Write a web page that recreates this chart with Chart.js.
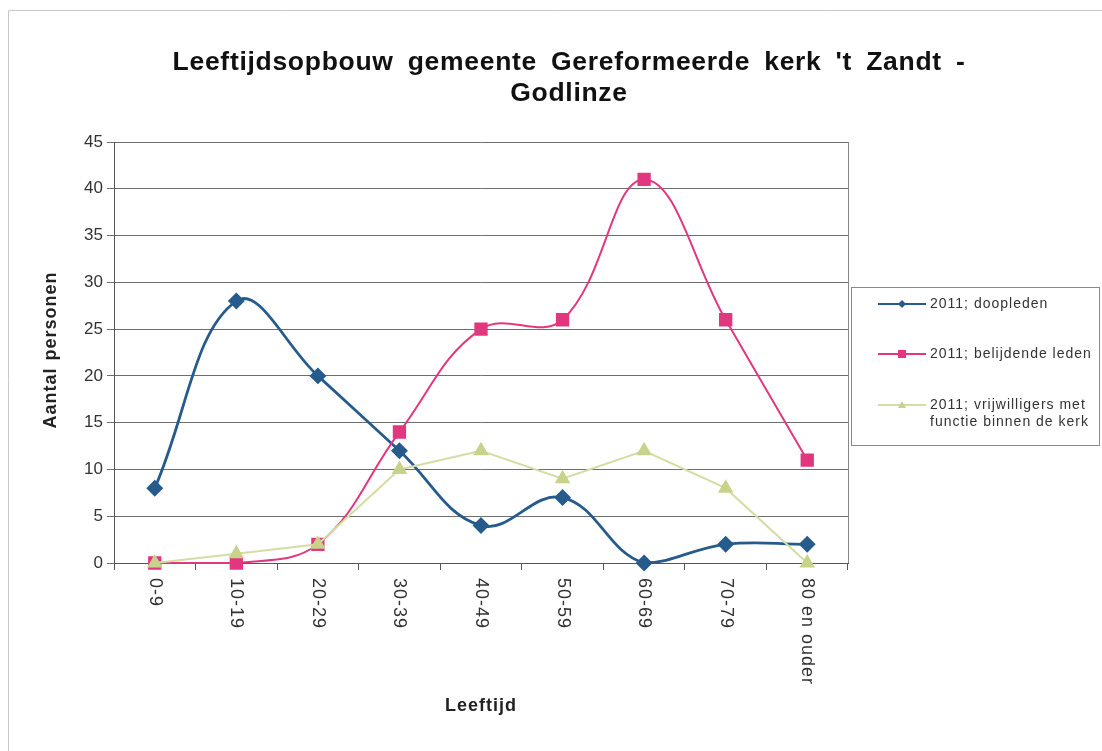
<!DOCTYPE html>
<html><head><meta charset="utf-8">
<script src="https://cdn.jsdelivr.net/npm/chart.js@4"></script>
<style>html,body{margin:0;padding:0;background:#fff}#wrap{width:1102px;height:751px;position:relative}</style>
</head><body><div id="wrap"><canvas id="c" width="1102" height="751"></canvas></div>
<script>
const categories = ['0-9','10-19','20-29','30-39','40-49','50-59','60-69','70-79','80 en ouder'];
const doopleden = [8,28,20,12,4,7,0,2,2];
const belijdendeLeden = [0,0,2,14,25,26,41,26,11];
const vrijwilligers = [0,1,2,10,12,9,12,8,0];
const seriesNames = ['2011; doopleden','2011; belijdende leden','2011; vrijwilligers met functie binnen de kerk'];
const legendLines = [['2011; doopleden'],['2011; belijdende leden'],['2011; vrijwilligers met','functie binnen de kerk']];
const titleLines = ["Leeftijdsopbouw gemeente Gereformeerde kerk 't Zandt -", 'Godlinze'];
const yTitle = 'Aantal personen';
const xTitle = 'Leeftijd';
const yTicks = [0,5,10,15,20,25,30,35,40,45];

const FONT = '"Liberation Sans", Arial, sans-serif';
const BLUE = '#265b8c', PINK = '#e2377f', GREEN = '#d6dca4', GREENM = '#c9d28a';

function spacing(ctx, ls, ws) {
  if ('letterSpacing' in ctx) ctx.letterSpacing = ls;
  if ('wordSpacing' in ctx) ctx.wordSpacing = ws;
}

const decor = {
  id: 'decor',
  beforeDraw(chart) {
    const ctx = chart.ctx;
    ctx.save();
    ctx.fillStyle = '#fff';
    ctx.fillRect(0, 0, chart.width, chart.height);
    ctx.strokeStyle = '#c8c8c8';
    ctx.lineWidth = 1;
    ctx.beginPath();
    ctx.moveTo(8.5, 751); ctx.lineTo(8.5, 10.5); ctx.lineTo(1102, 10.5);
    ctx.stroke();
    ctx.restore();
  },
  afterDraw(chart) {
    const ctx = chart.ctx;
    const area = chart.chartArea;
    ctx.save();
    // title
    ctx.fillStyle = '#111';
    ctx.font = 'bold 26.5px ' + FONT;
    ctx.textAlign = 'center';
    ctx.textBaseline = 'alphabetic';
    spacing(ctx, '0.7px', '6px');
    ctx.fillText(titleLines[0], 569, 70);
    ctx.fillText(titleLines[1], 569, 101);
    // axis titles
    ctx.fillStyle = '#222';
    ctx.font = 'bold 18px ' + FONT;
    spacing(ctx, '1px', '1px');
    ctx.textBaseline = 'middle';
    ctx.fillText(xTitle, (area.left + area.right) / 2, 706);
    ctx.save();
    ctx.translate(51, 350);
    ctx.rotate(-Math.PI / 2);
    ctx.fillText(yTitle, 0, 0);
    ctx.restore();
    spacing(ctx, '0px', '0px');
    // right border of plot
    ctx.strokeStyle = '#888';
    ctx.lineWidth = 1;
    ctx.beginPath();
    ctx.moveTo(Math.round(area.right) + 0.5, area.top);
    ctx.lineTo(Math.round(area.right) + 0.5, area.bottom);
    ctx.stroke();
    // x labels rotated clockwise
    const xs = chart.scales.x;
    ctx.fillStyle = '#333';
    ctx.font = '18px ' + FONT;
    ctx.textAlign = 'left';
    ctx.textBaseline = 'middle';
    spacing(ctx, '1px', '0px');
    categories.forEach((lab, i) => {
      const x = xs.getPixelForValue(i);
      ctx.save();
      ctx.translate(x, area.bottom + 15);
      ctx.rotate(Math.PI / 2);
      ctx.fillText(lab, 0, 0);
      ctx.restore();
    });
    spacing(ctx, '0px', '0px');
    // legend
    const bx = 851.5, by = 287.5, bw = 248, bh = 158;
    ctx.strokeStyle = '#8a8a8a';
    ctx.strokeRect(bx, by, bw, bh);
    const rows = [304, 354, 405];
    ctx.font = '14px ' + FONT;
    chart.data.datasets.forEach((ds, i) => {
      const y = rows[i];
      ctx.strokeStyle = ds.borderColor;
      ctx.lineWidth = 2;
      ctx.beginPath(); ctx.moveTo(878, y); ctx.lineTo(926, y); ctx.stroke();
      ctx.fillStyle = ds.pointBackgroundColor;
      const mx = 902;
      ctx.beginPath();
      if (ds.pointStyle === 'rectRot') { ctx.moveTo(mx, y-4); ctx.lineTo(mx+4, y); ctx.lineTo(mx, y+4); ctx.lineTo(mx-4, y); }
      else if (ds.pointStyle === 'rect') { ctx.rect(mx-4, y-4, 8, 8); }
      else { ctx.moveTo(mx, y-4); ctx.lineTo(mx+4, y+3); ctx.lineTo(mx-4, y+3); }
      ctx.closePath(); ctx.fill();
      ctx.fillStyle = '#333';
      ctx.textAlign = 'left';
      ctx.textBaseline = 'middle';
      spacing(ctx, '1px', '0px');
      legendLines[i].forEach((t, k) => ctx.fillText(t, 930, y + k * 17));
      spacing(ctx, '0px', '0px');
    });
    ctx.restore();
  }
};

new Chart(document.getElementById('c'), {
  type: 'line',
  data: {
    labels: categories,
    datasets: [
      { label: seriesNames[0], data: doopleden, borderColor: BLUE, backgroundColor: BLUE,
        pointBackgroundColor: BLUE, pointBorderColor: BLUE, pointStyle: 'rectRot', pointRadius: 6.5,
        borderWidth: 2.8, tension: 0.4, clip: false, order: 3 },
      { label: seriesNames[1], data: belijdendeLeden, borderColor: PINK, backgroundColor: PINK,
        pointBackgroundColor: PINK, pointBorderColor: PINK, pointStyle: 'rect', pointRadius: 8,
        borderWidth: 2, tension: 0.4, clip: false, order: 2 },
      { label: seriesNames[2], data: vrijwilligers, borderColor: GREEN, backgroundColor: GREENM,
        pointBackgroundColor: GREENM, pointBorderColor: GREENM, pointStyle: 'triangle', pointRadius: 7,
        borderWidth: 2, tension: 0, clip: false, order: 1 }
    ]
  },
  options: {
    responsive: false,
    animation: false,
    devicePixelRatio: 1,
    layout: { padding: { left: 38, right: 254, top: 142, bottom: 31 } },
    plugins: { legend: { display: false }, title: { display: false }, tooltip: { enabled: false } },
    scales: {
      x: {
        offset: true,
        grid: { offset: true, drawOnChartArea: false, tickLength: 7, color: '#555' },
        border: { color: '#555', width: 1 },
        ticks: { display: false },
        title: { display: false },
        afterFit(s) { s.height = 157; }
      },
      y: {
        min: 0, max: 45,
        afterBuildTicks(s) { s.ticks = yTicks.map(v => ({ value: v })); },
        grid: { color: '#6e6e6e', tickLength: 7 },
        border: { color: '#555', width: 1 },
        ticks: { color: '#333', padding: 4, font: { family: FONT, size: 17 } },
        title: { display: false },
        afterFit(s) { s.width = 76; }
      }
    }
  },
  plugins: [decor]
});
</script>
</body></html>
